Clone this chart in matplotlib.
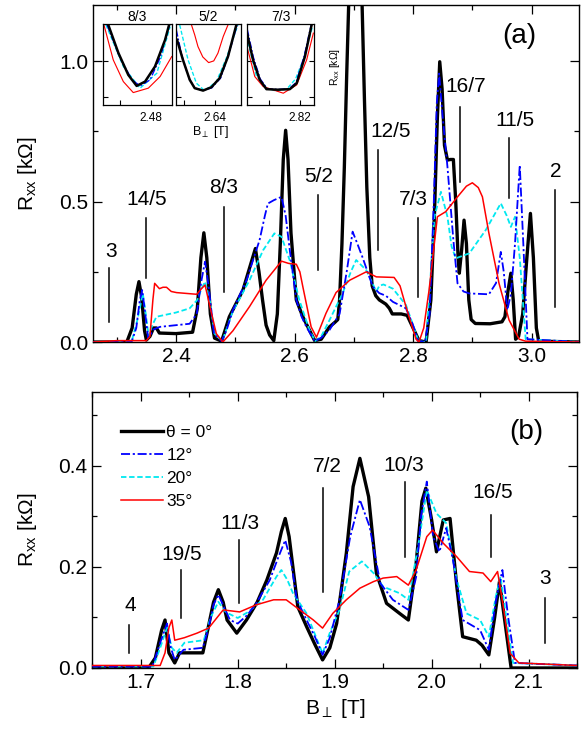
import numpy as np
import matplotlib
matplotlib.use("Agg")
import matplotlib.pyplot as plt
from matplotlib.ticker import MultipleLocator

plt.rcParams['font.family'] = ['Liberation Sans', 'DejaVu Sans']
plt.rcParams['mathtext.fontset'] = 'custom'
plt.rcParams['mathtext.rm'] = 'Liberation Sans'
plt.rcParams['mathtext.it'] = 'Liberation Sans:italic'

# ---- panel (a) data: B [T], Rxx [kOhm] ----
a_B_k = [2.26, 2.317, 2.326, 2.333, 2.3375, 2.342, 2.347, 2.350, 2.356, 2.362, 2.367, 2.372, 2.40, 2.428,
         2.436, 2.442, 2.447, 2.452, 2.458, 2.465, 2.477, 2.49, 2.513, 2.525, 2.534, 2.540, 2.546, 2.552,
         2.558, 2.565, 2.571, 2.576, 2.581, 2.585, 2.589, 2.594, 2.603, 2.614, 2.625, 2.634, 2.645, 2.659,
         2.668, 2.673, 2.676, 2.680, 2.684, 2.688, 2.692, 2.700, 2.708, 2.714, 2.718, 2.722, 2.727, 2.731,
         2.737, 2.743, 2.754, 2.760, 2.765, 2.780, 2.790, 2.800, 2.810, 2.822, 2.830, 2.836, 2.841, 2.845,
         2.849, 2.853, 2.858, 2.863, 2.868, 2.872, 2.876, 2.878, 2.882, 2.886, 2.890, 2.894, 2.898, 2.905,
         2.930, 2.950, 2.955, 2.960, 2.965, 2.969, 2.973, 2.978, 2.985, 2.992, 2.998, 3.003, 3.008, 3.012, 3.08]
a_R_k = [0.0, 0.0, 0.05, 0.17, 0.215, 0.16, 0.04, 0.007, 0.02, 0.05, 0.05, 0.032, 0.03, 0.035,
         0.12, 0.30, 0.389, 0.30, 0.10, 0.014, 0.003, 0.09, 0.185, 0.27, 0.333, 0.25, 0.15, 0.06,
         0.025, 0.005, 0.10, 0.35, 0.65, 0.754, 0.65, 0.388, 0.15, 0.09, 0.043, 0.005, 0.01, 0.054,
         0.07, 0.08, 0.15, 0.35, 0.62, 0.95, 1.25, 1.5, 1.5, 1.2, 0.86, 0.55, 0.30, 0.20,
         0.165, 0.15, 0.135, 0.12, 0.10, 0.10, 0.095, 0.05, 0.005, 0.0, 0.15, 0.45, 0.80, 0.998,
         0.90, 0.70, 0.648, 0.65, 0.65, 0.50, 0.30, 0.245, 0.33, 0.434, 0.35, 0.15, 0.08, 0.066,
         0.065, 0.072, 0.09, 0.18, 0.245, 0.15, 0.01, 0.02, 0.10, 0.30, 0.458, 0.30, 0.05, 0.003, 0.0]

a_B_b = [2.26, 2.325, 2.333, 2.339, 2.343, 2.347, 2.353, 2.358, 2.362, 2.373, 2.40, 2.423, 2.435, 2.443,
         2.449, 2.455, 2.464, 2.477, 2.485, 2.496, 2.519, 2.541, 2.550, 2.555, 2.565, 2.578, 2.585, 2.592,
         2.603, 2.612, 2.620, 2.634, 2.645, 2.659, 2.676, 2.688, 2.698, 2.706, 2.715, 2.732, 2.743, 2.754,
         2.766, 2.788, 2.800, 2.808, 2.820, 2.828, 2.835, 2.840, 2.844, 2.850, 2.858, 2.868, 2.875, 2.885,
         2.895, 2.928, 2.940, 2.948, 2.953, 2.959, 2.965, 2.972, 2.980, 2.986, 2.993, 3.08]
a_R_b = [0.0, 0.0, 0.05, 0.15, 0.185, 0.12, 0.014, 0.03, 0.045, 0.054, 0.06, 0.065, 0.10, 0.22,
         0.286, 0.20, 0.03, 0.003, 0.04, 0.114, 0.22, 0.363, 0.45, 0.493, 0.505, 0.517, 0.45, 0.327,
         0.15, 0.09, 0.054, 0.003, 0.015, 0.043, 0.10, 0.25, 0.393, 0.35, 0.30, 0.197, 0.174, 0.165,
         0.143, 0.12, 0.06, 0.005, 0.0, 0.10, 0.50, 0.85, 0.956, 0.80, 0.624, 0.363, 0.209, 0.18,
         0.173, 0.17, 0.21, 0.321, 0.25, 0.114, 0.17, 0.35, 0.63, 0.35, 0.01, 0.0]

a_B_c = [2.26, 2.325, 2.335, 2.344, 2.349, 2.354, 2.360, 2.367, 2.40, 2.423, 2.436, 2.443, 2.449, 2.457,
         2.465, 2.478, 2.496, 2.524, 2.547, 2.566, 2.578, 2.592, 2.608, 2.625, 2.635, 2.645, 2.659, 2.681,
         2.695, 2.704, 2.712, 2.721, 2.738, 2.743, 2.750, 2.766, 2.788, 2.800, 2.809, 2.822, 2.830, 2.836,
         2.847, 2.858, 2.865, 2.872, 2.895, 2.923, 2.948, 2.958, 2.965, 2.972, 2.980, 2.990, 3.08]
a_R_c = [0.0, 0.0, 0.08, 0.173, 0.10, 0.02, 0.06, 0.09, 0.105, 0.12, 0.15, 0.19, 0.215, 0.15,
         0.03, 0.003, 0.11, 0.22, 0.327, 0.387, 0.375, 0.29, 0.15, 0.043, 0.003, 0.02, 0.078, 0.173,
         0.25, 0.292, 0.275, 0.256, 0.18, 0.20, 0.205, 0.19, 0.132, 0.06, 0.003, 0.0, 0.25, 0.446,
         0.535, 0.446, 0.34, 0.298, 0.316, 0.40, 0.494, 0.45, 0.41, 0.446, 0.30, 0.01, 0.0]

a_B_r = [2.26, 2.30, 2.35, 2.356, 2.361, 2.364, 2.372, 2.378, 2.384, 2.392, 2.401, 2.435, 2.443, 2.449,
         2.458, 2.468, 2.479, 2.496, 2.524, 2.552, 2.578, 2.590, 2.603, 2.609, 2.614, 2.628, 2.637, 2.653,
         2.670, 2.693, 2.721, 2.738, 2.768, 2.778, 2.788, 2.805, 2.810, 2.818, 2.827, 2.841, 2.855, 2.875,
         2.890, 2.900, 2.910, 2.917, 2.928, 2.945, 2.962, 2.979, 2.990, 3.08]
a_R_r = [0.0, 0.005, 0.005, 0.02, 0.15, 0.209, 0.19, 0.195, 0.195, 0.18, 0.176, 0.17, 0.19, 0.203,
         0.12, 0.03, 0.0, 0.04, 0.126, 0.22, 0.288, 0.28, 0.277, 0.25, 0.197, 0.054, 0.017, 0.102,
         0.176, 0.22, 0.25, 0.232, 0.23, 0.20, 0.126, 0.01, 0.0, 0.05, 0.185, 0.446, 0.464, 0.517,
         0.555, 0.567, 0.55, 0.517, 0.387, 0.209, 0.078, 0.01, 0.003, 0.0]

# filling factors marked in (a): label, B, line bottom, line top, label position
a_frac = ['3', '14/5', '8/3', '5/2', '12/5', '7/3', '16/7', '11/5', '2']
a_frac_B = [2.287, 2.350, 2.4805, 2.639, 2.741, 2.809, 2.879, 2.962, 3.039]
a_frac_lo = [0.071, 0.228, 0.178, 0.256, 0.327, 0.160, 0.569, 0.512, 0.125]
a_frac_hi = [0.263, 0.441, 0.480, 0.523, 0.683, 0.441, 0.836, 0.726, 0.541]
a_frac_tx = [2.291, 2.350, 2.480, 2.640, 2.762, 2.801, 2.888, 2.972, 3.040]
a_frac_ty = [0.29, 0.475, 0.515, 0.555, 0.715, 0.475, 0.875, 0.755, 0.575]

# ---- insets of (a): zoom on minima 8/3, 5/2, 7/3 ----
in_titles = ['8/3', '5/2', '7/3']
in_xlim = [(2.449, 2.4935), (2.615, 2.657), (2.786, 2.829)]
in_tick = [2.48, 2.64, 2.82]
in_B = [
    {'k': [2.4524, 2.4589, 2.4653, 2.4707, 2.4761, 2.4825, 2.4890, 2.4916],
     'b': [2.4516, 2.4600, 2.4677, 2.4729, 2.4793, 2.4858, 2.4919],
     'c': [2.4509, 2.4621, 2.4729, 2.4837, 2.4923],
     'r': [2.4496, 2.4556, 2.4621, 2.4685, 2.4782, 2.4858, 2.4933]},
    {'k': [2.6157, 2.6195, 2.6239, 2.6271, 2.6325, 2.6379, 2.6432, 2.6486, 2.6540],
     'b': [2.6152, 2.6187, 2.6232, 2.6271, 2.6323, 2.6381, 2.6439, 2.6490, 2.6545],
     'c': [2.6174, 2.6228, 2.6282, 2.6335, 2.6411, 2.6475, 2.6550],
     'r': [2.6250, 2.6271, 2.6292, 2.6323, 2.6361, 2.6394, 2.6421, 2.6455, 2.6486]},
    {'k': [2.7860, 2.7899, 2.7942, 2.7985, 2.8058, 2.8135, 2.8179, 2.8232, 2.8275],
     'b': [2.7862, 2.7901, 2.7945, 2.7990, 2.8060, 2.8130, 2.8175, 2.8228, 2.8272],
     'c': [2.7866, 2.7920, 2.7985, 2.8049, 2.8117, 2.8172, 2.8221, 2.8280],
     'r': [2.7860, 2.7910, 2.7964, 2.8093, 2.8179, 2.8243, 2.8286]},
]
in_R = [
    {'k': [0.100, 0.0689, 0.0444, 0.0322, 0.037, 0.0537, 0.0833, 0.100],
     'b': [0.100, 0.0633, 0.0389, 0.0322, 0.0389, 0.0633, 0.100],
     'c': [0.100, 0.0537, 0.0297, 0.0463, 0.0981],
     'r': [0.100, 0.0611, 0.037, 0.0248, 0.0297, 0.0426, 0.0648]},
    {'k': [0.0833, 0.0611, 0.0389, 0.0297, 0.027, 0.0308, 0.0408, 0.0648, 0.100],
     'b': [0.0944, 0.0667, 0.0411, 0.0300, 0.0272, 0.0300, 0.0411, 0.0667, 0.100],
     'c': [0.100, 0.0611, 0.0352, 0.027, 0.037, 0.063, 0.100],
     'r': [0.100, 0.0889, 0.0759, 0.0644, 0.0581, 0.0600, 0.0686, 0.0870, 0.100]},
    {'k': [0.0908, 0.0611, 0.0389, 0.0286, 0.028, 0.0286, 0.0352, 0.0648, 0.100],
     'b': [0.0950, 0.0640, 0.0400, 0.0290, 0.0283, 0.0290, 0.0360, 0.0660, 0.100],
     'c': [0.0804, 0.0433, 0.0300, 0.0263, 0.0290, 0.0400, 0.0615, 0.0975],
     'r': [0.0759, 0.0426, 0.0315, 0.0241, 0.0333, 0.0611, 0.0908]},
]

# ---- panel (b) data ----
b_B_k = [1.65, 1.708, 1.715, 1.7215, 1.725, 1.729, 1.735, 1.740, 1.764, 1.769, 1.775, 1.780, 1.785, 1.789,
         1.799, 1.809, 1.820, 1.830, 1.840, 1.845, 1.849, 1.853, 1.862, 1.871, 1.880, 1.8875, 1.895, 1.902,
         1.912, 1.919, 1.926, 1.935, 1.943, 1.9535, 1.967, 1.976, 1.984, 1.990, 1.994, 2.000, 2.005, 2.012,
         2.019, 2.026, 2.032, 2.046, 2.052, 2.059, 2.065, 2.070, 2.075, 2.082, 2.15]
b_R_k = [0.0, 0.0, 0.02, 0.075, 0.095, 0.03, 0.01, 0.03, 0.03, 0.075, 0.13, 0.155, 0.13, 0.095,
         0.069, 0.095, 0.13, 0.174, 0.228, 0.27, 0.296, 0.26, 0.121, 0.082, 0.045, 0.016, 0.04, 0.088,
         0.227, 0.359, 0.415, 0.339, 0.188, 0.128, 0.108, 0.095, 0.207, 0.33, 0.356, 0.293, 0.23, 0.293,
         0.296, 0.161, 0.062, 0.055, 0.045, 0.026, 0.10, 0.171, 0.10, 0.0, 0.0]

b_B_b = [1.65, 1.712, 1.720, 1.727, 1.731, 1.735, 1.744, 1.764, 1.770, 1.775, 1.780, 1.786, 1.792, 1.800,
         1.810, 1.819, 1.833, 1.842, 1.849, 1.855, 1.861, 1.871, 1.880, 1.8875, 1.895, 1.905, 1.916, 1.926,
         1.936, 1.947, 1.960, 1.976, 1.984, 1.989, 1.995, 2.0015, 2.008, 2.015, 2.022, 2.032, 2.050, 2.059,
         2.066, 2.073, 2.079, 2.086, 2.15]
b_R_b = [0.003, 0.003, 0.05, 0.088, 0.04, 0.016, 0.036, 0.04, 0.08, 0.125, 0.145, 0.12, 0.095, 0.088,
         0.105, 0.128, 0.174, 0.22, 0.253, 0.21, 0.135, 0.095, 0.06, 0.026, 0.06, 0.135, 0.26, 0.333,
         0.28, 0.168, 0.135, 0.115, 0.18, 0.30, 0.369, 0.26, 0.23, 0.277, 0.214, 0.095, 0.075, 0.036,
         0.13, 0.194, 0.10, 0.01, 0.005]

b_B_c = [1.65, 1.713, 1.720, 1.727, 1.732, 1.737, 1.745, 1.765, 1.772, 1.780, 1.788, 1.800, 1.810, 1.826,
         1.840, 1.845, 1.851, 1.857, 1.871, 1.880, 1.8875, 1.895, 1.905, 1.915, 1.928, 1.940, 1.950, 1.967,
         1.976, 1.986, 1.995, 2.005, 2.015, 2.026, 2.036, 2.050, 2.059, 2.066, 2.071, 2.077, 2.084, 2.15]
b_R_c = [0.003, 0.003, 0.04, 0.08, 0.04, 0.03, 0.05, 0.055, 0.10, 0.131, 0.11, 0.099, 0.11, 0.135,
         0.181, 0.194, 0.175, 0.148, 0.108, 0.065, 0.029, 0.07, 0.115, 0.191, 0.211, 0.188, 0.161, 0.148,
         0.135, 0.24, 0.352, 0.306, 0.287, 0.174, 0.108, 0.095, 0.062, 0.14, 0.181, 0.10, 0.01, 0.005]

b_B_r = [1.65, 1.720, 1.725, 1.729, 1.732, 1.735, 1.745, 1.758, 1.770, 1.785, 1.802, 1.819, 1.837, 1.850,
         1.864, 1.878, 1.8875, 1.898, 1.912, 1.926, 1.940, 1.950, 1.964, 1.976, 1.984, 1.995, 2.001, 2.012,
         2.026, 2.039, 2.053, 2.061, 2.068, 2.074, 2.081, 2.090, 2.15]
b_R_r = [0.005, 0.005, 0.03, 0.08, 0.095, 0.055, 0.06, 0.069, 0.079, 0.115, 0.111, 0.125, 0.135, 0.135,
         0.115, 0.095, 0.079, 0.108, 0.135, 0.158, 0.171, 0.178, 0.181, 0.164, 0.194, 0.26, 0.273, 0.247,
         0.22, 0.191, 0.188, 0.171, 0.191, 0.121, 0.029, 0.01, 0.005]

b_frac = ['4', '19/5', '11/3', '7/2', '10/3', '16/5', '3']
b_frac_B = [1.688, 1.741, 1.801, 1.8875, 1.973, 2.061, 2.117]
b_frac_lo = [0.030, 0.099, 0.129, 0.150, 0.220, 0.220, 0.050]
b_frac_hi = [0.085, 0.194, 0.253, 0.356, 0.369, 0.303, 0.139]
b_frac_tx = [1.689, 1.742, 1.802, 1.892, 1.971, 2.063, 2.117]
b_frac_ty = [0.105, 0.205, 0.268, 0.38, 0.383, 0.328, 0.158]

legend_labels = ['θ = 0°', '12°', '20°', '35°']

# styles for the four tilt angles
styles = {
    'k': dict(color='black', lw=2.4, ls='-'),
    'b': dict(color='#0000ff', lw=1.3, ls=(0, (5, 1.5, 1.2, 1.5))),
    'c': dict(color='#00e8f0', lw=1.3, ls=(0, (3, 1.5))),
    'r': dict(color='#ff0000', lw=1.1, ls='-'),
}

fig = plt.figure(figsize=(5.81, 7.40), dpi=100)


def style_axis(ax, tick_size=15):
    ax.tick_params(which='both', direction='in', top=True, right=True, labelsize=tick_size)
    ax.tick_params(which='major', length=6.5, width=0.9)
    ax.tick_params(which='minor', length=3.5, width=0.9)
    for s in ax.spines.values():
        s.set_linewidth(1.0)


# ---- panel (a) ----
axa = fig.add_axes([0.1601, 0.5378, 0.8365, 0.4554])
axa.plot(a_B_c, a_R_c, zorder=2, **styles['c'])
axa.plot(a_B_b, a_R_b, zorder=3, **styles['b'])
axa.plot(a_B_r, a_R_r, zorder=4, **styles['r'])
axa.plot(a_B_k, a_R_k, zorder=1, **styles['k'])
axa.set_xlim(2.26, 3.08)
axa.set_ylim(0, 1.2)
axa.xaxis.set_major_locator(MultipleLocator(0.2))
axa.xaxis.set_minor_locator(MultipleLocator(0.1))
axa.yaxis.set_major_locator(MultipleLocator(0.5))
axa.yaxis.set_minor_locator(MultipleLocator(0.25))
axa.xaxis.set_major_formatter(matplotlib.ticker.FormatStrFormatter('%.1f'))
axa.yaxis.set_major_formatter(matplotlib.ticker.FormatStrFormatter('%.1f'))
style_axis(axa)
axa.set_ylabel(r'R$_{\rm xx}$ [kΩ]', fontsize=15, labelpad=14)
for lab, b, lo, hi, tx, ty in zip(a_frac, a_frac_B, a_frac_lo, a_frac_hi, a_frac_tx, a_frac_ty):
    axa.plot([b, b], [lo, hi], color='black', lw=1.1)
    axa.text(tx, ty, lab, ha='center', va='bottom', fontsize=15)
axa.text(0.877, 0.908, '(a)', transform=axa.transAxes, ha='center', va='center', fontsize=20)

# insets
in_left = [0.1773, 0.3029, 0.4251]
in_width = [0.1188, 0.1119, 0.1153]
for i in range(3):
    ax = fig.add_axes([in_left[i], 0.8581, in_width[i], 0.1095])
    for key in ['c', 'b', 'r', 'k']:
        st = dict(styles[key])
        st['lw'] = st['lw'] * 0.75
        ax.plot(in_B[i][key], in_R[i][key], **st)
    ax.set_xlim(*in_xlim[i])
    ax.set_ylim(0.011, 0.101)
    ax.set_xticks([in_tick[i] - 0.02, in_tick[i]])
    ax.set_xticklabels(['', f'{in_tick[i]:.2f}'])
    ax.set_yticks([0.02, 0.06])
    ax.set_yticklabels([])
    ax.tick_params(direction='in', length=3.5, width=0.8, labelsize=8.5, pad=5,
                   top=False, right=(i == 2))
    ax.set_title(in_titles[i], fontsize=10, pad=2)
    for s in ax.spines.values():
        s.set_linewidth(0.9)
fig.text(210 / 581, 1 - 132 / 740, r'B$_{\perp}$ [T]', ha='center', va='center', fontsize=9)
fig.text(335 / 581, 1 - 67 / 740, r'R$_{\rm xx}$ [kΩ]', ha='center', va='center',
         fontsize=7.5, rotation=90)

# ---- panel (b) ----
axb = fig.add_axes([0.1589, 0.0973, 0.8343, 0.3734])
hk, = axb.plot(b_B_k, b_R_k, zorder=1, **styles['k'])
hb, = axb.plot(b_B_b, b_R_b, zorder=3, **styles['b'])
hc, = axb.plot(b_B_c, b_R_c, zorder=2, **styles['c'])
hr, = axb.plot(b_B_r, b_R_r, zorder=4, **styles['r'])
axb.set_xlim(1.65, 2.15)
axb.set_ylim(0, 0.547)
axb.xaxis.set_major_locator(MultipleLocator(0.1))
axb.xaxis.set_minor_locator(MultipleLocator(0.05))
axb.yaxis.set_major_locator(MultipleLocator(0.2))
axb.yaxis.set_minor_locator(MultipleLocator(0.1))
axb.xaxis.set_major_formatter(matplotlib.ticker.FormatStrFormatter('%.1f'))
axb.yaxis.set_major_formatter(matplotlib.ticker.FormatStrFormatter('%.1f'))
style_axis(axb)
axb.set_ylabel(r'R$_{\rm xx}$ [kΩ]', fontsize=15, labelpad=14)
axb.set_xlabel(r'B$_{\perp}$ [T]', fontsize=15, labelpad=4)
for lab, b, lo, hi, tx, ty in zip(b_frac, b_frac_B, b_frac_lo, b_frac_hi, b_frac_tx, b_frac_ty):
    axb.plot([b, b], [lo, hi], color='black', lw=1.1)
    axb.text(tx, ty, lab, ha='center', va='bottom', fontsize=15)
axb.text(0.895, 0.855, '(b)', transform=axb.transAxes, ha='center', va='center', fontsize=20)
axb.legend([hk, hb, hc, hr], legend_labels, loc='upper left', bbox_to_anchor=(0.045, 0.905),
           frameon=False, fontsize=12.5, handlelength=2.4, handletextpad=0.2, labelspacing=0.45,
           borderaxespad=0)

fig.savefig('out.png', dpi=100)
